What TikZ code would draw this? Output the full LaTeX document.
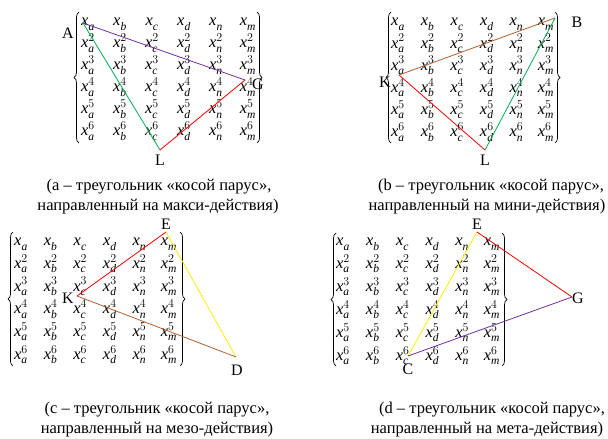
\documentclass[tikz,border=0pt]{standalone}
\usepackage{fontspec}
\setmainfont{Liberation Serif}
\usetikzlibrary{decorations.pathreplacing}
\definecolor{cPurple}{RGB}{112,48,160}
\definecolor{cGreen}{RGB}{0,176,80}
\definecolor{cRed}{RGB}{255,0,0}
\definecolor{cBrown}{RGB}{176,96,48}
\definecolor{cYellow}{RGB}{250,240,0}
\newcommand\X[2]{\mathit{x}_{\mathit{#1}}^{#2}}
\newcommand\panelmatrix[5]{%
  \foreach \r/\s in {1/{},2/2,3/3,4/4,5/5,6/6}{%
    \foreach \c/\l in {1/a,2/b,3/c,4/d,5/n,6/m}{%
      \node[entry] (#1-\r-\c) at ({#2+(\c-1)*#3},{#4+(\r-1)*#5+3.8}) {$\X{\l}{\s}$};
    }}}
\begin{document}
\begin{tikzpicture}[x=1pt,y=-1pt,
  entry/.style={inner sep=0pt, anchor=base, font=\fontsize{16.5}{19}\selectfont},
  brc/.style={decorate, decoration={brace, amplitude=5pt}, line width=0.7pt},
  lbl/.style={inner sep=0pt, font=\fontsize{16}{19}\selectfont},
  capline/.style={inner sep=0pt, anchor=base, font=\fontsize{16.5}{19}\selectfont},
  side/.style={line width=0.8pt}]
\useasboundingbox (0,0) rectangle (608,439);

% ---------- panel a ----------
\panelmatrix{pa}{88}{32}{22}{22}
\draw[brc] (79,143) -- (79,12);
\draw[brc] (257,12) -- (257,143);
\coordinate (a-A) at (83,23);
\coordinate (a-G) at (245,80);
\coordinate (a-L) at (160,150);
\node[lbl] (a-Alab) at (68,33) {A};
\node[lbl] (a-Glab) at (258,84) {G};
\node[lbl] (a-Llab) at (160,160) {L};
\draw[side, cGreen] (a-A) -- (a-L);
\draw[side, cPurple] (a-A) -- (a-G);
\draw[side, cRed] (a-G) -- (a-L);
\node[capline] (a-cap1) at (159,190) {(a – треугольник «косой парус»,};
\node[capline] (a-cap2) at (158,210) {направленный на макси-действия)};

% ---------- panel b ----------
\panelmatrix{pb}{398}{29.6}{22}{22.2}
\draw[brc] (391,143) -- (391,12);
\draw[brc] (555,12) -- (555,143);
\coordinate (b-B) at (555,18);
\coordinate (b-K) at (399,75);
\coordinate (b-L) at (485,150);
\node[lbl] (b-Blab) at (577,22) {B};
\node[lbl] (b-Klab) at (385,82) {K};
\node[lbl] (b-Llab) at (485,160) {L};
\draw[side, cBrown] (b-K) -- (b-B);
\draw[side, cRed] (b-K) -- (b-L);
\draw[side, cGreen] (b-L) -- (b-B);
\node[capline] (b-cap1) at (491,190) {(b – треугольник «косой парус»,};
\node[capline] (b-cap2) at (487,210) {направленный на мини-действия)};

% ---------- panel c ----------
\panelmatrix{pc}{21}{29.6}{242}{22.7}
\draw[brc] (13,366) -- (13,232);
\draw[brc] (180,232) -- (180,366);
\coordinate (c-E) at (166,232);
\coordinate (c-K) at (77,296);
\coordinate (c-D) at (236,357);
\node[lbl] (c-Elab) at (166,224) {E};
\node[lbl] (c-Klab) at (68,298) {K};
\node[lbl] (c-Dlab) at (237,370) {D};
\draw[side, cRed] (c-K) -- (c-E);
\draw[side, cYellow] (c-E) -- (c-D);
\draw[side, cBrown] (c-K) -- (c-D);
\node[capline] (c-cap1) at (157,413) {(c – треугольник «косой парус»,};
\node[capline] (c-cap2) at (157,433) {направленный на мезо-действия)};

% ---------- panel d ----------
\panelmatrix{pd}{343}{29.8}{242}{22.9}
\draw[brc] (336,366) -- (336,233);
\draw[brc] (502,233) -- (502,366);
\coordinate (d-E) at (477,232);
\coordinate (d-G) at (572,297);
\coordinate (d-C) at (408,356);
\node[lbl] (d-Elab) at (477,224) {E};
\node[lbl] (d-Glab) at (578,298) {G};
\node[lbl] (d-Clab) at (408,369) {C};
\draw[side, cYellow] (d-C) -- (d-E);
\draw[side, cRed] (d-E) -- (d-G);
\draw[side, cPurple] (d-C) -- (d-G);
\node[capline] (d-cap1) at (492,413) {(d – треугольник «косой парус»,};
\node[capline] (d-cap2) at (487,433) {направленный на мета-действия)};
\end{tikzpicture}
\end{document}
